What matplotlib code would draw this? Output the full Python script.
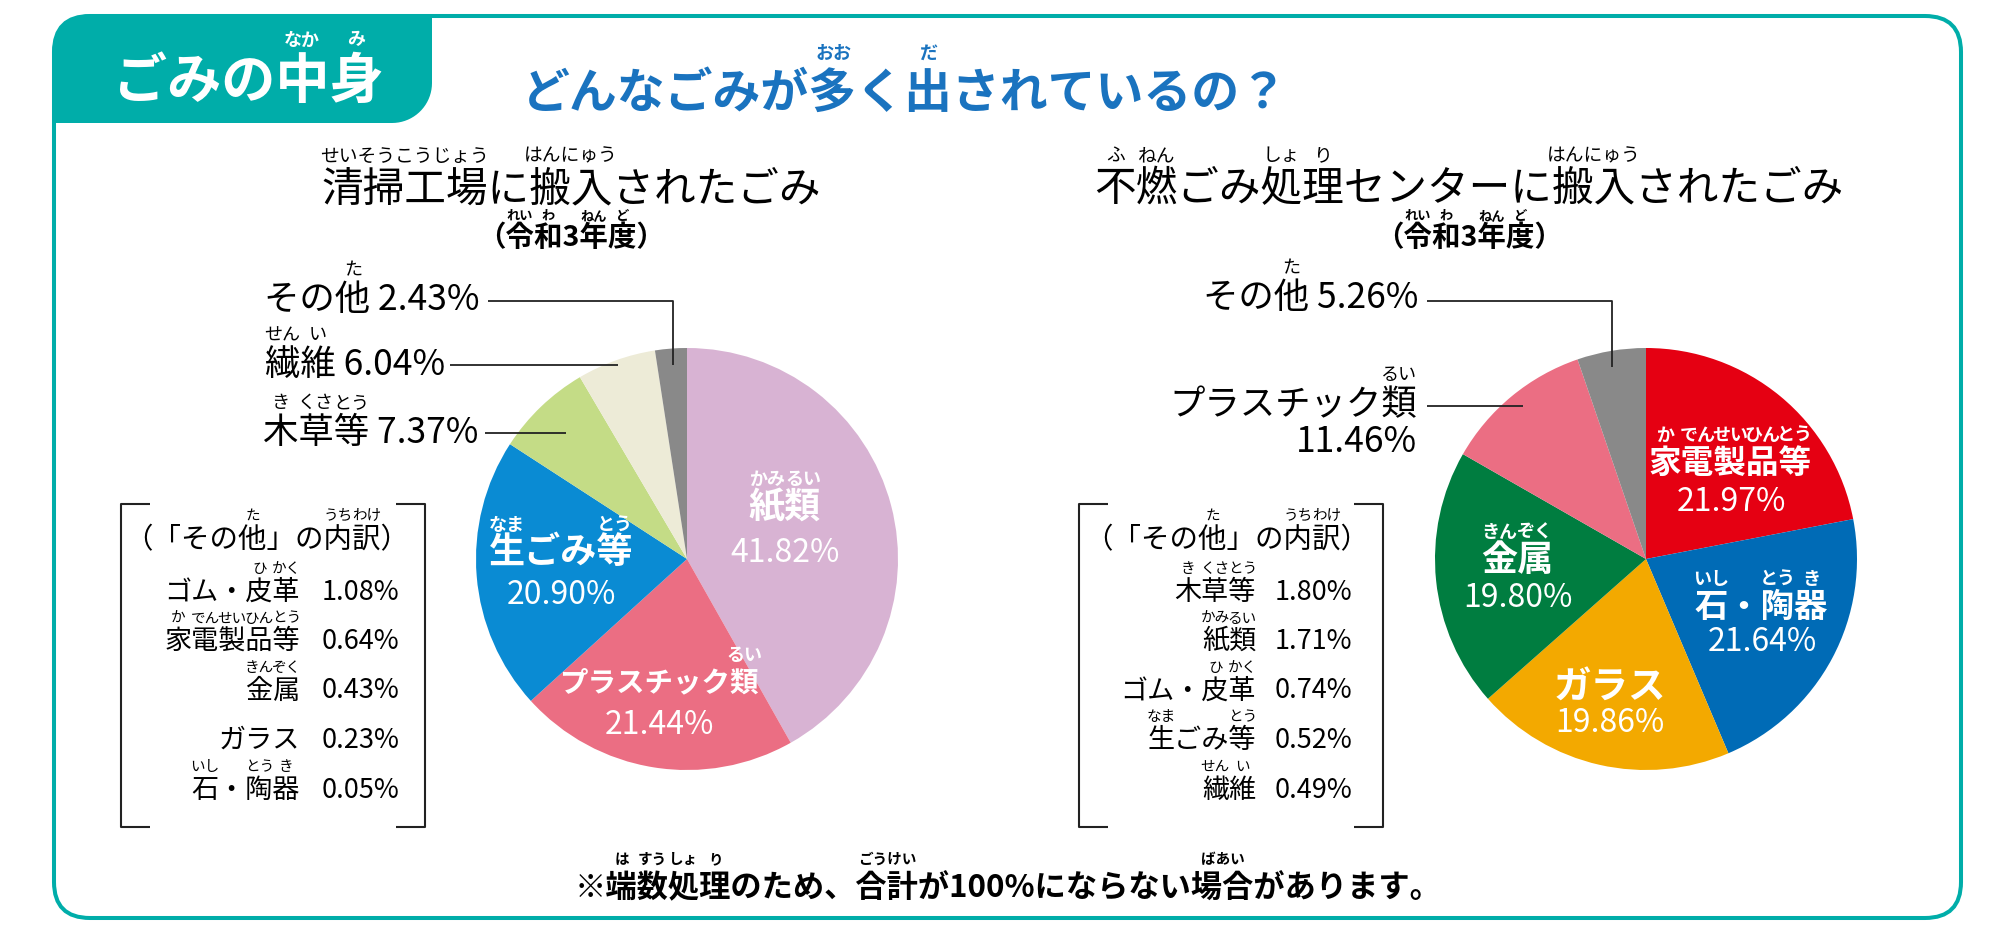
import matplotlib
matplotlib.use('Agg')
import matplotlib.pyplot as plt
from matplotlib.font_manager import FontProperties
from matplotlib.patches import FancyBboxPatch, PathPatch
from matplotlib.path import Path
import numpy as np

W, H = 2014, 934
FONT = ['Noto Sans CJK JP', 'DejaVu Sans']
plt.rcParams['font.family'] = FONT

TEAL = '#00ADA9'
BLUE = '#1A73BF'

# --- data ---
left_labels = ['紙類', 'プラスチック類', '生ごみ等', '木草等', '繊維', 'その他']
left_values = [41.82, 21.44, 20.90, 7.37, 6.04, 2.43]
left_colors = ['#D8B3D3', '#EB6E83', '#0A8BD3', '#C4DC86', '#EDEBD7', '#898989']

left_other_labels = ['ゴム・皮革', '家電製品等', '金属', 'ガラス', '石・陶器']
left_other_values = [1.08, 0.64, 0.43, 0.23, 0.05]

right_labels = ['家電製品等', '石・陶器', 'ガラス', '金属', 'プラスチック類', 'その他']
right_values = [21.97, 21.64, 19.86, 19.80, 11.46, 5.26]
right_colors = ['#E50012', '#006BB6', '#F3A900', '#007D40', '#EB6E83', '#898989']

right_other_labels = ['木草等', '紙類', 'ゴム・皮革', '生ごみ等', '繊維']
right_other_values = [1.80, 1.71, 0.74, 0.52, 0.49]

# furigana: (start, end, reading)
RUBY = {
    '紙類': [(0, 1, 'かみ'), (1, 2, 'るい')],
    'プラスチック類': [(6, 7, 'るい')],
    '生ごみ等': [(0, 1, 'なま'), (3, 4, 'とう')],
    '木草等': [(0, 1, 'き'), (1, 2, 'くさ'), (2, 3, 'とう')],
    '繊維': [(0, 1, 'せん'), (1, 2, 'い')],
    'その他': [(2, 3, 'た')],
    '家電製品等': [(0, 1, 'か'), (1, 2, 'でん'), (2, 3, 'せい'), (3, 4, 'ひん'), (4, 5, 'とう')],
    '石・陶器': [(0, 1, 'いし'), (2, 3, 'とう'), (3, 4, 'き')],
    '金属': [(0, 1, 'きん'), (1, 2, 'ぞく')],
    'ゴム・皮革': [(3, 4, 'ひ'), (4, 5, 'かく')],
    'ガラス': [],
}

fig = plt.figure(figsize=(W / 100, H / 100), dpi=100)
ax = fig.add_axes([0, 0, 1, 1])
renderer = fig.canvas.get_renderer()


def text_w(s, fp):
    if not s:
        return 0
    w, h, d = renderer.get_text_width_height_descent(s, fp, ismath=False)
    return w


def rtext(x, y, s, size, ha='center', color='black', weight='normal',
          ruby=None, rsize=12, roff=30):
    # x, y in pixels from the top-left; y is the middle of the line
    fp = FontProperties(family=FONT, size=size, weight=weight)
    ax.text(x, H - y, s, fontproperties=fp, ha=ha, va='center', color=color)
    if not ruby:
        return
    w = text_w(s, fp)
    left = x - {'left': 0, 'center': 0.5, 'right': 1}[ha] * w
    for i0, i1, r in ruby:
        cx = left + (text_w(s[:i0], fp) + text_w(s[:i1], fp)) / 2
        ax.text(cx, H - y + roff, r, fontsize=rsize, ha='center', va='center',
                color=color, weight=weight if weight == 'bold' else 'normal')


def pline(pts, lw=1.3, color='#222222'):
    xs = [p[0] for p in pts]
    ys = [H - p[1] for p in pts]
    ax.plot(xs, ys, color=color, lw=lw, solid_capstyle='butt')


# --- pies ---
ax.pie(left_values, colors=left_colors, startangle=90, counterclock=False,
       center=(687, H - 559), radius=211, wedgeprops=dict(linewidth=0))
ax.pie(right_values, colors=right_colors, startangle=90, counterclock=False,
       center=(1646, H - 559), radius=211, wedgeprops=dict(linewidth=0))

# --- frame and tab ---
frame = FancyBboxPatch((54, 16), 1907, 902, boxstyle='round,pad=0,rounding_size=36',
                       fc='none', ec=TEAL, lw=2.9, zorder=0)
ax.add_patch(frame)

r1, r2 = 36, 40
x0, x1, yt, yb = 52.5, 432, H - 14.5, H - 123
a1 = np.linspace(np.pi, np.pi / 2, 20)
a2 = np.linspace(0, -np.pi / 2, 20)
verts = [(x0, yb), (x0, yt - r1)]
verts += list(zip(x0 + r1 + r1 * np.cos(a1), yt - r1 + r1 * np.sin(a1)))
verts += [(x1, yt), (x1, yb + r2)]
verts += list(zip(x1 - r2 + r2 * np.cos(a2), yb + r2 + r2 * np.sin(a2)))
verts += [(x0, yb), (x0, yb)]
codes = [Path.MOVETO] + [Path.LINETO] * (len(verts) - 2) + [Path.CLOSEPOLY]
ax.add_patch(PathPatch(Path(verts, codes), fc=TEAL, ec='none', zorder=1))

# --- titles ---
rtext(248, 82, 'ごみの中身', 39, color='white', weight='bold',
      ruby=[(3, 4, 'なか'), (4, 5, 'み')], rsize=13, roff=42)
rtext(522, 93, 'どんなごみが多く出されているの？', 34.5, ha='left', color=BLUE,
      weight='bold', ruby=[(6, 7, 'おお'), (8, 9, 'だ')], rsize=13, roff=40)

rtext(571, 190, '清掃工場に搬入されたごみ', 30,
      ruby=[(0, 4, 'せいそうこうじょう'), (5, 7, 'はんにゅう')], rsize=13.5, roff=34)
rtext(1469, 190, '不燃ごみ処理センターに搬入されたごみ', 30,
      ruby=[(0, 1, 'ふ'), (1, 2, 'ねん'), (4, 5, 'しょ'), (5, 6, 'り'), (11, 13, 'はんにゅう')],
      rsize=13.5, roff=34)
for cx in (571, 1469):
    rtext(cx, 238, '（令和3年度）', 20.5, weight='bold',
          ruby=[(1, 2, 'れい'), (2, 3, 'わ'), (4, 5, 'ねん'), (5, 6, 'ど')], rsize=9.5, roff=22)

# --- callouts outside the pies ---
rtext(480, 300, f'その他 {left_values[5]:.2f}%', 25.5, ha='right', ruby=RUBY['その他'], rsize=13)
rtext(445, 365, f'繊維 {left_values[4]:.2f}%', 25.5, ha='right', ruby=RUBY['繊維'], rsize=13)
rtext(478, 433, f'木草等 {left_values[3]:.2f}%', 25.5, ha='right', ruby=RUBY['木草等'], rsize=13)
pline([(488, 301), (673, 301), (673, 365)])
pline([(450, 365), (618, 365)])
pline([(485, 433), (566, 433)])

rtext(1418, 298, f'その他 {right_values[5]:.2f}%', 25.5, ha='right', ruby=RUBY['その他'], rsize=13)
rtext(1417, 405, right_labels[4], 25.5, ha='right', ruby=RUBY['プラスチック類'], rsize=13)
rtext(1417, 442, f'{right_values[4]:.2f}%', 25.5, ha='right')
pline([(1427, 301), (1612, 301), (1612, 367)])
pline([(1427, 406), (1523, 406)])

# --- labels inside the pies ---
inner_left = {
    '紙類': (785, 507, 553, 26),
    '生ごみ等': (561, 553, 595, 26),
    'プラスチック類': (659, 683, 725, 20.5),
}
for name, (cx, ly, vy, fs) in inner_left.items():
    v = left_values[left_labels.index(name)]
    rtext(cx, ly, name, fs, color='white', weight='bold', ruby=RUBY[name], rsize=13, roff=28)
    rtext(cx, vy, f'{v:.2f}%', 23, color='white')

inner_right = {
    '家電製品等': (1730, 463, 1731, 502, 23.5),
    '石・陶器': (1761, 607, 1762, 642, 24),
    'ガラス': (1610, 687, 1610, 723, 27),
    '金属': (1517, 560, 1518, 598, 26),
}
for name, (cx, ly, vx, vy, fs) in inner_right.items():
    v = right_values[right_labels.index(name)]
    rtext(cx, ly, name, fs, color='white', weight='bold', ruby=RUBY[name], rsize=13, roff=28)
    rtext(vx, vy, f'{v:.2f}%', 23, color='white')


# --- "その他" breakdown boxes ---
def breakdown(bx0, bx1, names, values, head_x, name_x, val_x):
    top, bot, tick = 504, 827, 29
    pline([(bx0 + tick, top), (bx0, top), (bx0, bot), (bx0 + tick, bot)], lw=1.5)
    pline([(bx1 - tick, top), (bx1, top), (bx1, bot), (bx1 - tick, bot)], lw=1.5)
    rtext(head_x, 540, '（「その他」の内訳）', 20.5,
          ruby=[(4, 5, 'た'), (7, 8, 'うち'), (8, 9, 'わけ')], rsize=10.5, roff=24)
    for i, (n, v) in enumerate(zip(names, values)):
        yy = 592 + 49.5 * i
        rtext(name_x, yy, n, 19.5, ha='right', ruby=RUBY[n], rsize=10.5, roff=23)
        rtext(val_x, yy, f'{v:.2f}%', 19.5, ha='left')


breakdown(121, 425, left_other_labels, left_other_values, 267, 300, 322)
breakdown(1079, 1383, right_other_labels, right_other_values, 1227, 1256, 1275)

# --- footnote ---
rtext(1008, 888, '※端数処理のため、合計が100%にならない場合があります。', 22.5, weight='bold',
      ruby=[(1, 2, 'は'), (2, 3, 'すう'), (3, 4, 'しょ'), (4, 5, 'り'),
            (9, 11, 'ごうけい'), (21, 23, 'ばあい')], rsize=10.5, roff=29)

ax.set_xlim(0, W)
ax.set_ylim(0, H)
ax.set_aspect('equal')
ax.axis('off')
fig.savefig('out.png', dpi=100, facecolor='white')
